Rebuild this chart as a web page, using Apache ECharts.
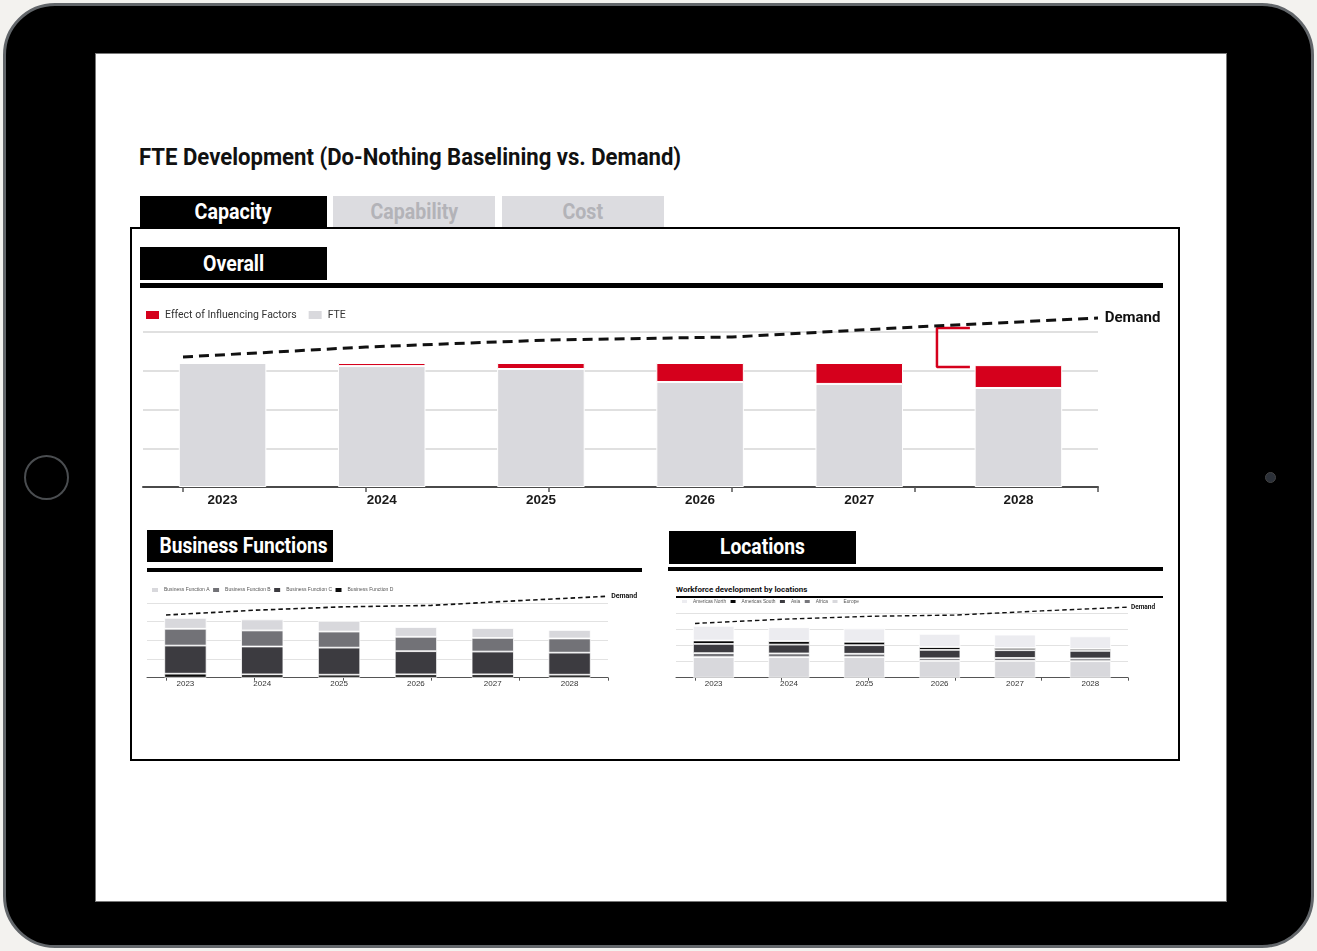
<!DOCTYPE html>
<html>
<head>
<meta charset="utf-8">
<script src="https://cdn.jsdelivr.net/npm/echarts@6/dist/echarts.min.js"></script>
<style>
html,body{margin:0;padding:0;width:1317px;height:951px;overflow:hidden;background:#f3f2ef;}
.abs{position:absolute;box-sizing:border-box;}
.cond{font-family:'Roboto','Liberation Sans',sans-serif;font-weight:bold;}
.t{display:inline-block;white-space:nowrap;transform-origin:center center;}
#ipad{left:3px;top:3px;width:1311px;height:945px;background:#000;border-radius:52px;border:3px solid #62666a;}
#screen{left:95px;top:53px;width:1132px;height:849px;background:#fff;border:1px solid #777;}
#home{left:24px;top:455px;width:45px;height:45px;border-radius:50%;border:2px solid #4a4d50;}
#cam{left:1265px;top:472px;width:11px;height:11px;border-radius:50%;background:#2b3038;border:1px solid #444;}
.title{left:139px;top:143px;font-size:23.5px;line-height:28px;color:#111;white-space:nowrap;}
.title .t{transform-origin:left center;}
.tab{top:196px;height:31px;line-height:31px;text-align:center;font-size:22px;background:#dcdce0;color:#b3b3b8;}
.tab.on{background:#000;color:#fff;}
.panel{left:130px;top:227px;width:1050px;height:534px;border:2px solid #000;}
.hbox{background:#000;color:#fff;text-align:center;font-size:22px;white-space:nowrap;}
.rule{background:#000;}
.sub{font-family:'Roboto','Liberation Sans',sans-serif;font-weight:bold;font-size:8px;line-height:10px;color:#111;white-space:nowrap;}
.sub .t{transform-origin:left center;}
#chart{left:0;top:0;width:1317px;height:951px;}
</style>
</head>
<body>
<div class="abs" id="ipad"></div>
<div class="abs" id="screen"></div>
<div class="abs" id="home"></div>
<div class="abs" id="cam"></div>
<div class="abs title cond"><span class="t" data-w="542">FTE Development (Do-Nothing Baselining vs. Demand)</span></div>
<div class="abs tab on cond" style="left:140px;width:187px;"><span class="t" data-w="77">Capacity</span></div>
<div class="abs tab cond" style="left:333px;width:162px;"><span class="t" data-w="88">Capability</span></div>
<div class="abs tab cond" style="left:502px;width:162px;"><span class="t" data-w="41">Cost</span></div>
<div class="abs panel"></div>
<div class="abs hbox cond" style="left:140px;top:247px;width:187px;height:33px;line-height:33px;"><span class="t" data-w="61">Overall</span></div>
<div class="abs rule" style="left:140px;top:283px;width:1023px;height:5px;"></div>
<div class="abs hbox cond" style="left:147px;top:530px;width:186px;height:32px;line-height:31px;"><span class="t" data-w="168">Business Functions</span></div>
<div class="abs rule" style="left:147px;top:568px;width:495px;height:4px;"></div>
<div class="abs hbox cond" style="left:669px;top:531px;width:187px;height:33px;line-height:32px;"><span class="t" data-w="85">Locations</span></div>
<div class="abs rule" style="left:668px;top:567px;width:495px;height:4px;"></div>
<div class="abs sub" style="left:676px;top:585px;"><span class="t" data-w="131">Workforce development by locations</span></div>
<div class="abs rule" style="left:676px;top:596px;width:487px;height:1.5px;"></div>
<div class="abs" id="chart"></div>
<script>
// fit condensed heading texts to the reference widths
document.querySelectorAll('.t').forEach(function (s) {
  const w = parseFloat(s.getAttribute('data-w'));
  const a = s.offsetWidth;
  if (a > 0) s.style.transform = 'scaleX(' + (w / a).toFixed(4) + ')';
});

// ---------- data ----------
const years = ['2023', '2024', '2025', '2026', '2027', '2028'];
const demandTicks = [0, 1, 2, 3, 4, 5];
const fteBase = [3200, 3120, 3045, 2710, 2660, 2555];
const influenceEffect = [0, 80, 155, 490, 540, 590];
const demand = [3355, 3613, 3794, 3871, 4129, 4361];
const gapBracketX = [4.30, 4.12, 4.12, 4.30];
const gapBracketY = [4103, 4103, 3097, 3097];

const bfA = [580, 590, 575, 520, 530, 455];
const bfB = [900, 860, 860, 770, 730, 760];
const bfC = [1505, 1490, 1450, 1240, 1220, 1180];
const bfD = [215, 180, 160, 180, 180, 160];

const locEurope = [1270, 1270, 1270, 1040, 1040, 1020];
const locAfrica = [250, 230, 210, 160, 180, 170];
const locAsia = [570, 550, 530, 520, 480, 470];
const locAmSouth = [210, 210, 210, 170, 140, 120];
const locAmNorth = [900, 860, 825, 820, 820, 775];

// ---------- layout ----------
const panels = [
  {left: 143, right: 1098, top: 332, bottom: 487, tickLeft: 183},
  {left: 147, right: 608, top: 603, bottom: 677.7, tickLeft: 166},
  {left: 676, right: 1128, top: 613, bottom: 677.7, tickLeft: 695}
];
const YMAX = 4000, YMAX2 = 5000;
const grids = [], xAxes = [], yAxes = [];
const FONT = "'Liberation Sans', Roboto, sans-serif";
panels.forEach((p, i) => {
  const h = p.bottom - p.top;
  const h2 = h * YMAX2 / YMAX;
  grids.push({left: p.left, width: p.right - p.left, top: p.top, height: h, containLabel: false, outerBoundsMode: 'none'});
  grids.push({left: p.tickLeft, width: p.right - p.tickLeft, top: p.bottom - h2, height: h2, containLabel: false, outerBoundsMode: 'none'});
  const main = i === 0;
  xAxes.push({
    type: 'category', data: years, gridIndex: 2 * i,
    axisLine: {show: true, lineStyle: {color: main ? '#4a4a4a' : '#555', width: main ? 2 : 1}},
    axisTick: {show: false},
    axisLabel: {color: main ? '#1a1a1a' : '#333', fontSize: main ? 13.5 : 8, fontWeight: main ? 'bold' : 'normal', margin: main ? 6 : 2.5, fontFamily: FONT}
  });
  xAxes.push({
    type: 'value', min: 0, max: 5, interval: 1, gridIndex: 2 * i + 1,
    axisLine: {show: false},
    axisTick: {show: true, length: main ? 5 : 3, lineStyle: {color: '#555', width: main ? 1.5 : 1}},
    axisLabel: {show: false}, splitLine: {show: false}
  });
  yAxes.push({
    type: 'value', min: 0, max: YMAX, interval: 1000, gridIndex: 2 * i,
    axisLine: {show: false}, axisTick: {show: false}, axisLabel: {show: false},
    splitLine: {show: true, lineStyle: {color: main ? '#d6d6d6' : '#e2e2e2', width: main ? 1.5 : 1}}
  });
  yAxes.push({type: 'value', min: 0, max: YMAX2, gridIndex: 2 * i + 1, show: false, splitLine: {show: false}});
});

function bar(name, data, color, idx, stack, bw) {
  return {
    name, type: 'bar', data, stack, xAxisIndex: idx, yAxisIndex: idx, barWidth: '55%',
    itemStyle: {color, borderColor: '#fff', borderWidth: bw}, emphasis: {disabled: true}
  };
}
function demandLine(name, idx, width, dash, fs) {
  return {
    name, type: 'line', xAxisIndex: idx, yAxisIndex: idx, symbol: 'none', z: 5,
    data: demand.map((v, i) => [demandTicks[i], v]),
    lineStyle: {color: '#111', width, type: dash},
    endLabel: {show: true, formatter: 'Demand', fontWeight: 'bold', fontSize: fs, color: '#111', distance: fs * 0.45,
               fontFamily: "Roboto, 'Liberation Sans', sans-serif"}
  };
}

const series = [
  bar('FTE', fteBase, '#d9d9dd', 0, 'ov', 1),
  bar('Effect of Influencing Factors', influenceEffect, '#d5001c', 0, 'ov', 1),
  demandLine('Demand', 1, 3, [10, 6], 15),
  {
    name: 'Gap', type: 'line', xAxisIndex: 1, yAxisIndex: 1, symbol: 'none', z: 4,
    data: gapBracketX.map((x, i) => [x, gapBracketY[i]]),
    lineStyle: {color: '#d5001c', width: 2.5}
  },
  bar('Business Function D', bfD, '#0b0b0b', 2, 'bf', 0.8),
  bar('Business Function C', bfC, '#3c3b40', 2, 'bf', 0.8),
  bar('Business Function B', bfB, '#727277', 2, 'bf', 0.8),
  bar('Business Function A', bfA, '#d8d8dc', 2, 'bf', 0.8),
  demandLine('Demand BF', 3, 1.6, [4.5, 3], 7),
  bar('Europe', locEurope, '#d8d8dc', 4, 'loc', 0.8),
  bar('Africa', locAfrica, '#76767b', 4, 'loc', 0.8),
  bar('Asia', locAsia, '#3c3b40', 4, 'loc', 0.8),
  bar('Americas South', locAmSouth, '#050505', 4, 'loc', 0.8),
  bar('Americas North', locAmNorth, '#ececf0', 4, 'loc', 0.8),
  demandLine('Demand Loc', 5, 1.4, [4.5, 3], 6.5)
];

const chart = echarts.init(document.getElementById('chart'), null, {renderer: 'canvas'});
chart.setOption({
  animation: false,
  backgroundColor: 'transparent',
  textStyle: {fontFamily: FONT},
  grid: grids, xAxis: xAxes, yAxis: yAxes,
  legend: [
    {data: ['Effect of Influencing Factors', 'FTE'], left: 144, top: 309, padding: 0, itemWidth: 15, itemHeight: 10, itemGap: 10,
     icon: 'rect', selectedMode: false, textStyle: {fontSize: 10.5, color: '#333', fontFamily: "Roboto, 'Liberation Sans', sans-serif"}},
    {data: ['Business Function A', 'Business Function B', 'Business Function C', 'Business Function D'], left: 150, top: 586, padding: 0,
     itemWidth: 8, itemHeight: 6, itemGap: 1.5, icon: 'rect', selectedMode: false, textStyle: {fontSize: 5, color: '#555'}},
    {data: ['Americas North', 'Americas South', 'Asia', 'Africa', 'Europe'], left: 680, top: 598, padding: 0,
     itemWidth: 7, itemHeight: 5, itemGap: 2.5, icon: 'rect', selectedMode: false, textStyle: {fontSize: 4.8, color: '#555'}}
  ],
  series
});
</script>
</body>
</html>
